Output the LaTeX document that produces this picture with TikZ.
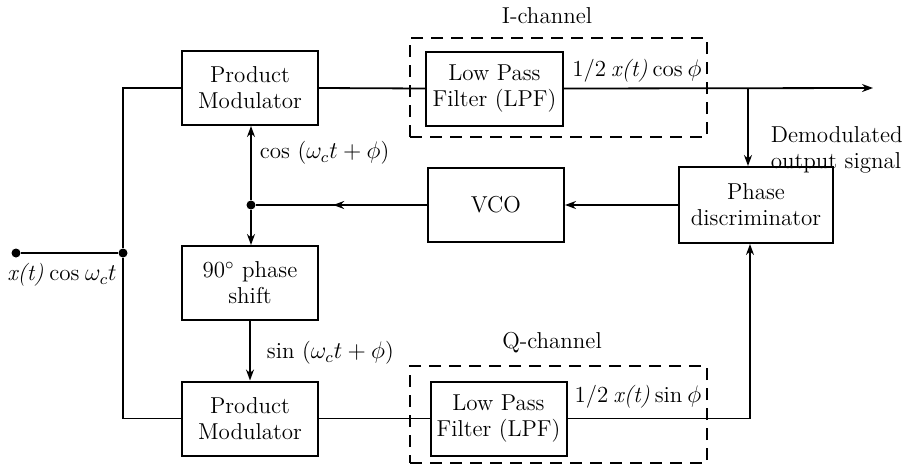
\documentclass[tikz,border=0pt]{standalone}
\usetikzlibrary{arrows.meta,decorations.markings}
\begin{document}
\begin{tikzpicture}[x=0.5pt,y=-0.5pt, line width=0.9pt,
  font=\fontsize{11.5}{13}\selectfont,
  blk/.style={draw, line width=1pt, minimum width=68pt, minimum height=37pt, align=center, inner sep=1pt},
  chan/.style={draw, dash pattern=on 6pt off 4pt, line width=1pt, inner sep=0pt},
  arr/.style={-{Stealth[length=5.5pt,width=4pt]}},
  midarr/.style={decoration={markings, mark=at position 0.55 with {\arrow{Stealth[length=5.5pt,width=4pt]}}}, postaction={decorate}},
  dotn/.style={circle, fill, inner sep=0pt, minimum size=4.5pt},
  lbl/.style={inner sep=1pt}]
\useasboundingbox (0,0) rectangle (907,467);
% dashed channel boxes
\node[chan, minimum width=148.5pt, minimum height=49.5pt] (ich) at (558.5,87.5) {};
\node[chan, minimum width=148.5pt, minimum height=48.5pt] (qch) at (558.5,414.5) {};
% blocks
\node[blk] (pm1) at (250,88) {Product\\Modulator};
\node[blk, minimum width=68.5pt] (lpf1) at (494.5,88.5) {Low Pass\\Filter (LPF)};
\node[blk] (vco) at (496,205) {VCO};
\node[blk, minimum width=77pt, minimum height=38pt] (pd) at (756,205) {Phase\\discriminator};
\node[blk] (ps) at (250,283) {90$^\circ$ phase\\shift};
\node[blk] (pm2) at (250,418.5) {Product\\Modulator};
\node[blk] (lpf2) at (498.5,418.5) {Low Pass\\Filter (LPF)};
% dots and coordinates
\node[dotn] (in) at (16,253) {};
\node[dotn] (j1) at (123,253) {};
\node[dotn] (j2) at (251,205) {};
\coordinate (out) at (873,88);
\coordinate (br) at (748,88);
\coordinate (qc) at (750,418.5);
% connectors
\draw (in) -- (j1);
\draw (pm1.west) -| (j1);
\draw (pm2.west) -| (j1);
\draw (pm1.east) -- (lpf1.west);
\draw[arr] (lpf1.east) -- (out);
\draw[arr] (br) -- (br |- pd.north);
\draw[arr] (pd.west) -- (vco.east);
\draw[midarr] (vco.west) -- (j2);
\draw[arr] (j2) -- (j2 |- pm1.south);
\draw[arr] (j2) -- (j2 |- ps.north);
\draw[arr] (ps.south) -- (pm2.north);
\draw (pm2.east) -- (lpf2.west);
\draw[arr] (lpf2.east) -- (qc) -- (qc |- pd.south);
% labels
\node[lbl] (il) at (547,16) {I-channel};
\node[lbl] (ql) at (552,343) {Q-channel};
\node[lbl] (ic) at (637,71) {1/2\hspace{0.22em}\textit{x(t)}\hspace{0.22em}cos\hspace{0.22em}$\phi$};
\node[lbl] (qs) at (638,397) {1/2\hspace{0.22em}\textit{x(t)}\hspace{0.22em}sin\hspace{0.22em}$\phi$};
\node[lbl, anchor=west, align=left] (dem) at (768,150) {Demodulated\\output signal};
\node[lbl, anchor=west] (cl) at (257,153) {cos ($\omega_c t + \phi$)};
\node[lbl, anchor=west] (sl) at (264,353) {sin ($\omega_c t + \phi$)};
\node[lbl] (xl) at (62,275) {\textit{x(t)}\hspace{0.25em}cos\hspace{0.25em}$\omega_c t$};
\end{tikzpicture}
\end{document}
